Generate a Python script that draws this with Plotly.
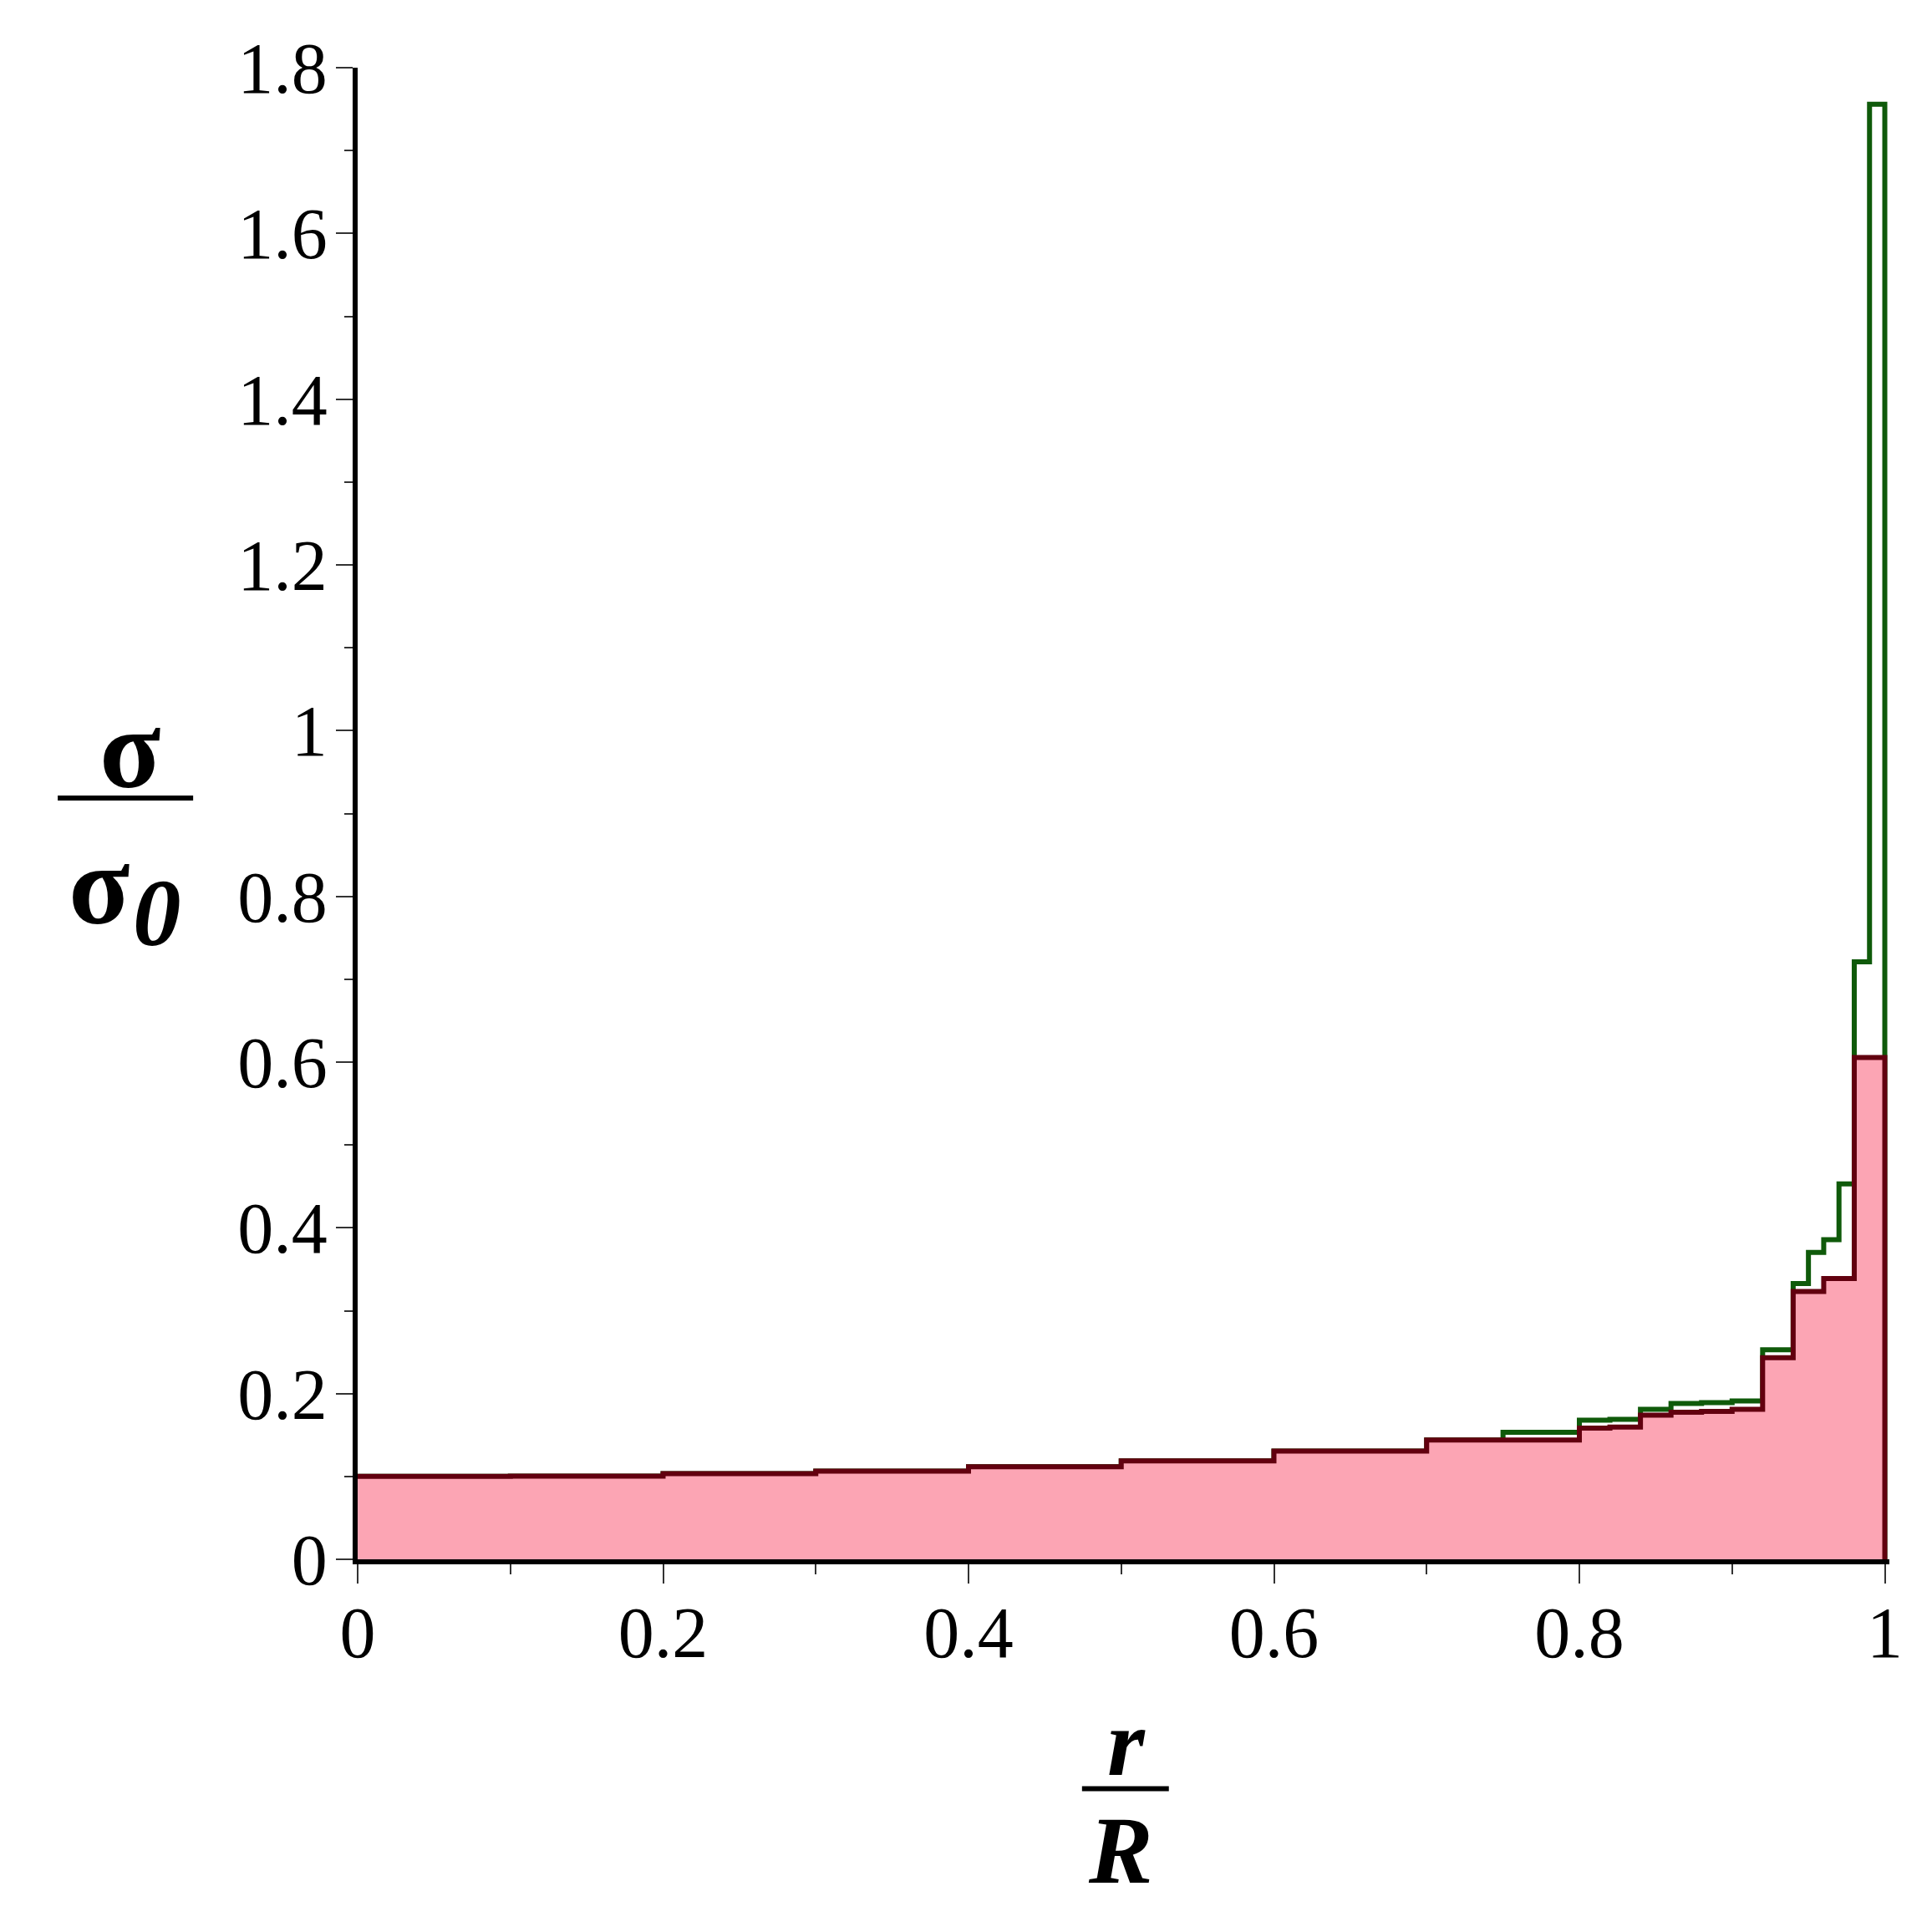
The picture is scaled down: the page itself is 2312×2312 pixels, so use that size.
import plotly.graph_objects as go

# ---- data ----
red_edges = [0.0, 0.1, 0.2, 0.3, 0.4, 0.5, 0.6, 0.7, 0.8, 0.82, 0.84, 0.86, 0.88, 0.9, 0.92, 0.94, 0.96, 0.98]
red_values = [0.100, 0.1003, 0.1033, 0.1063, 0.1117, 0.1188, 0.1305, 0.1439, 0.1584, 0.1595,
              0.1740, 0.1775, 0.1785, 0.1810, 0.2434, 0.3233, 0.3388, 0.6056]

green_edges = [0.0, 0.1, 0.2, 0.3, 0.4, 0.5, 0.6, 0.7, 0.75, 0.8, 0.82, 0.84, 0.86, 0.88, 0.9,
               0.92, 0.94, 0.95, 0.96, 0.97, 0.98, 0.99]
green_values = [0.100, 0.1003, 0.1033, 0.1063, 0.1117, 0.1188, 0.1305, 0.1439, 0.1534, 0.168, 0.169,
                0.181, 0.188, 0.189, 0.191, 0.2528, 0.3328, 0.3704, 0.3857, 0.453, 0.721, 1.756]

x_end = 1.0
x_tickvals = [0, 0.2, 0.4, 0.6, 0.8, 1]
x_ticktext = ["0", "0.2", "0.4", "0.6", "0.8", "1"]
y_tickvals = [0, 0.2, 0.4, 0.6, 0.8, 1, 1.2, 1.4, 1.6, 1.8]
y_ticktext = ["0", "0.2", "0.4", "0.6", "0.8", "1", "1.2", "1.4", "1.6", "1.8"]

RED = "#62000f"
GREEN = "#0f5a0a"
PINK = "#fca5b4"
FONT = "Liberation Serif"


def step_xy(edges, values):
    xs = list(edges) + [x_end, x_end]
    ys = list(values) + [values[-1], 0.0]
    return xs, ys


gx, gy = step_xy(green_edges, green_values)
rx, ry = step_xy(red_edges, red_values)

fig = go.Figure()
fig.add_trace(go.Scatter(x=gx, y=gy, mode="lines", line=dict(color=GREEN, width=6, shape="hv"),
                         showlegend=False, hoverinfo="skip"))
fig.add_trace(go.Scatter(x=rx, y=ry, mode="lines", line=dict(color=RED, width=6, shape="hv"),
                         fill="tozeroy", fillcolor=PINK, showlegend=False, hoverinfo="skip"))

tickfont = dict(family=FONT, size=86, color="black")
fig.update_xaxes(range=[0, 1.003], tickvals=x_tickvals, ticktext=x_ticktext, ticks="outside",
                 ticklen=23, tickwidth=1.5, tickcolor="#333", showline=True, linewidth=6,
                 linecolor="black", showgrid=False, zeroline=False, tickfont=tickfont,
                 ticklabelstandoff=-15,
                 minor=dict(dtick=0.1, tick0=0, ticks="outside", ticklen=12, tickwidth=1.5,
                            tickcolor="#333", showgrid=False))
fig.update_yaxes(range=[0, 1.8], tickvals=y_tickvals, ticktext=y_ticktext, ticks="outside",
                 ticklen=20, tickwidth=1.5, tickcolor="#333", showline=True, linewidth=6,
                 linecolor="black", showgrid=False, zeroline=False, tickfont=tickfont,
                 ticklabelstandoff=-7,
                 minor=dict(dtick=0.1, tick0=0, ticks="outside", ticklen=10, tickwidth=1.5,
                            tickcolor="#333", showgrid=False))

ann_font_sig = dict(family=FONT, size=135, color="black")
ann_font_it = dict(family=FONT, size=115, color="black")
annotations = [
    dict(text="<b>σ</b>", x=-0.1486, y=0.5431, font=ann_font_sig),
    dict(text="<b>σ</b>", x=-0.1687, y=0.4518, font=ann_font_sig),
    dict(text="<b><i>0</i></b>", x=-0.1312, y=0.4333, font=ann_font_it),
    dict(text="<b><i>r</i></b>", x=0.5020, y=-0.1232, font=ann_font_it),
    dict(text="<b><i>R</i></b>", x=0.4982, y=-0.1955, font=ann_font_it),
]
for a in annotations:
    a.update(xref="paper", yref="paper", xanchor="center", yanchor="middle", showarrow=False)

shapes = [
    dict(type="line", xref="paper", yref="paper", x0=-0.1958, x1=-0.1074, y0=0.5104, y1=0.5104,
         line=dict(color="black", width=6)),
    dict(type="line", xref="paper", yref="paper", x0=0.4729, x1=0.5296, y0=-0.1538, y1=-0.1538,
         line=dict(color="black", width=6)),
]

fig.update_layout(width=2312, height=2312, autosize=False,
                  margin=dict(l=428, r=51, t=81, b=446, pad=0),
                  paper_bgcolor="white", plot_bgcolor="white",
                  annotations=annotations, shapes=shapes, showlegend=False)

fig.write_html("out.html", config={"displayModeBar": False},
               post_script="document.body.style.margin='0';")
